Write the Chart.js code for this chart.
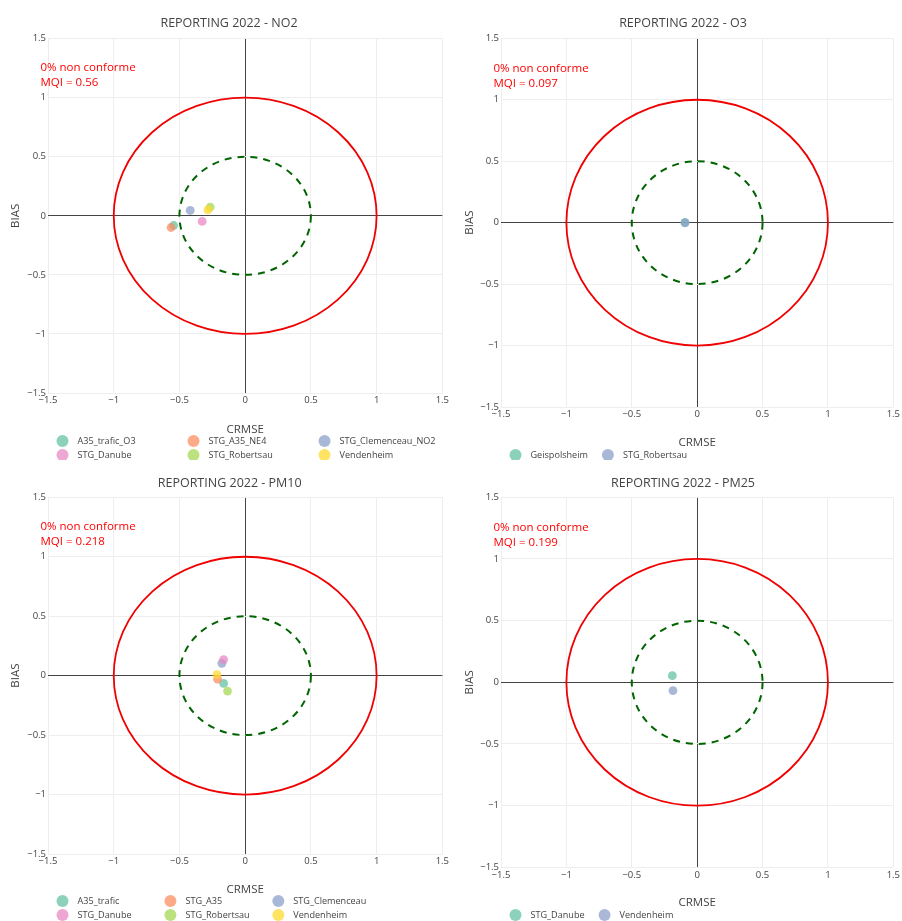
<!DOCTYPE html>
<html>
<head>
<meta charset="utf-8">
<script src="https://cdn.jsdelivr.net/npm/chart.js@4.4.0/dist/chart.umd.min.js"></script>
<style>
  body { margin: 0; background: #fff; }
  #page { position: relative; width: 902px; height: 921px; }
  canvas { position: absolute; }
</style>
</head>
<body>
<div id="page">
  <canvas id="no2" width="451" height="460" style="left:0;top:0"></canvas>
  <canvas id="o3" width="451" height="460" style="left:451px;top:0"></canvas>
  <canvas id="pm10" width="451" height="461" style="left:0;top:460px"></canvas>
  <canvas id="pm25" width="451" height="461" style="left:451px;top:460px"></canvas>
</div>
<script>
const axisTicks = [-1.5, -1, -0.5, 0, 0.5, 1, 1.5];

const no2Stations = ["A35_trafic_O3", "STG_A35_NE4", "STG_Clemenceau_NO2", "STG_Danube", "STG_Robertsau", "Vendenheim"];
const no2Crmse = [-0.544, -0.564, -0.418, -0.327, -0.266, -0.283];
const no2Bias = [-0.082, -0.099, 0.045, -0.048, 0.074, 0.050];
const no2Summary = ["0% non conforme", "MQI = 0.56"];

const o3Stations = ["Geispolsheim", "STG_Robertsau"];
const o3Crmse = [-0.093, -0.093];
const o3Bias = [0.002, -0.002];
const o3Summary = ["0% non conforme", "MQI = 0.097"];

const pm10Stations = ["A35_trafic", "STG_A35", "STG_Clemenceau", "STG_Danube", "STG_Robertsau", "Vendenheim"];
const pm10Crmse = [-0.164, -0.210, -0.177, -0.164, -0.134, -0.215];
const pm10Bias = [-0.065, -0.030, 0.104, 0.135, -0.130, 0.008];
const pm10Summary = ["0% non conforme", "MQI = 0.218"];

const pm25Stations = ["STG_Danube", "Vendenheim"];
const pm25Crmse = [-0.190, -0.185];
const pm25Bias = [0.054, -0.067];
const pm25Summary = ["0% non conforme", "MQI = 0.199"];

// Set2 colours
const teal = "102,194,165", orange = "252,141,98", blue = "141,160,203",
      pink = "231,138,195", green = "166,216,84", yellow = "255,217,47";

const FONT = '"Open Sans", "DejaVu Sans", sans-serif';
const minus = v => v < 0 ? "\u2212" + Math.abs(v) : String(v);

// red / dashed green target rings, drawn through the scales
const targetCircles = {
  id: "targetCircles",
  beforeDatasetsDraw(chart, args, opts) {
    const { ctx, scales: { x, y } } = chart;
    const cx = x.getPixelForValue(0), cy = y.getPixelForValue(0);
    ctx.save();
    opts.rings.forEach(r => {
      ctx.beginPath();
      ctx.setLineDash(r.dash || []);
      ctx.strokeStyle = r.color;
      ctx.lineWidth = r.width;
      ctx.ellipse(cx, cy, x.getPixelForValue(r.radius) - cx, cy - y.getPixelForValue(r.radius), 0, 0, Math.PI * 2);
      ctx.stroke();
    });
    ctx.restore();
  }
};

// red text block top-left
const qualityNote = {
  id: "qualityNote",
  afterDraw(chart, args, opts) {
    const { ctx, chartArea, scales: { y } } = chart;
    const mid = y.getPixelForValue(opts.at);
    ctx.save();
    ctx.font = `${opts.size}px ${FONT}`;
    ctx.fillStyle = opts.color;
    ctx.textBaseline = "middle";
    opts.lines.forEach((t, i) => {
      ctx.fillText(t, chartArea.left - 7.5, mid + (i - (opts.lines.length - 1) / 2) * 15);
    });
    ctx.restore();
  }
};

// plotly-like legend: uniform columns when it wraps
const gridLegend = {
  id: "gridLegend",
  afterDraw(chart, args, opts) {
    const { ctx, chartArea } = chart;
    const sets = chart.data.datasets;
    ctx.save();
    ctx.font = `${opts.size}px ${FONT}`;
    ctx.textBaseline = "middle";
    const widths = sets.map(d => ctx.measureText(d.label).width);
    const widest = Math.max(...widths);
    const wraps = opts.columns < sets.length;
    let x = 0;
    sets.forEach((d, i) => {
      const col = i % opts.columns, row = Math.floor(i / opts.columns);
      if (col === 0) x = chartArea.left + 14.5;
      const y = opts.rows[row];
      ctx.fillStyle = d.backgroundColor;
      ctx.beginPath();
      ctx.arc(x, y, 6, 0, Math.PI * 2);
      ctx.fill();
      ctx.fillStyle = "#444";
      ctx.fillText(d.label, x + 15, y);
      x += (wraps ? widest : widths[i]) + 35;
    });
    ctx.restore();
  }
};

function makeChart(id, p) {
  const datasets = p.stations.map((name, i) => ({
    label: name,
    data: [{ x: p.crmse[i], y: p.bias[i] }],
    backgroundColor: `rgba(${p.colors[i]},0.75)`,
    borderWidth: 0,
    pointRadius: 4.4,
    order: p.stations.length - i
  }));

  const tickFont = { family: FONT, size: 9.5 };
  const grid = {
    color: c => (c.tick && c.tick.value === 0) ? "#444" : "#eeeeee",
    lineWidth: 1,
    drawTicks: false
  };

  return new Chart(document.getElementById(id), {
    type: "scatter",
    data: { datasets },
    options: {
      responsive: false,
      animation: false,
      events: [],
      layout: { padding: { left: p.padL, right: p.padR, top: 0, bottom: p.padB } },
      plugins: {
        legend: { display: false },
        tooltip: { enabled: false },
        title: {
          display: true,
          text: p.title,
          color: "#444",
          font: { family: FONT, size: 12.5, weight: "normal" },
          padding: { top: p.titleTop, bottom: p.titleBottom }
        },
        targetCircles: {
          rings: [
            { radius: 1, color: "#f00000", width: 1.8 },
            { radius: 0.5, color: "#006400", width: 2, dash: [7, 6] }
          ]
        },
        qualityNote: { lines: p.summary, at: 1.19, size: 11.5, color: "#ff0000" },
        gridLegend: { columns: p.columns, rows: p.legendRows, size: 9.1 }
      },
      scales: {
        x: {
          type: "linear",
          min: -1.5,
          max: 1.5,
          afterBuildTicks: s => { s.ticks = axisTicks.map(v => ({ value: v })); },
          afterFit: s => { s.height = p.xHeight; },
          ticks: { color: "#444", font: tickFont, padding: 2, maxRotation: 0, autoSkip: false, callback: minus },
          grid,
          border: { display: false },
          title: { display: true, text: "CRMSE", color: "#444", font: { family: FONT, size: 11.5 }, padding: 0 }
        },
        y: {
          type: "linear",
          min: -1.5,
          max: 1.5,
          afterBuildTicks: s => { s.ticks = axisTicks.map(v => ({ value: v })); },
          afterFit: s => { s.width = p.yWidth; },
          ticks: { color: "#444", font: tickFont, padding: 2, autoSkip: false, callback: minus },
          grid,
          border: { display: false },
          title: { display: true, text: "BIAS", color: "#444", font: { family: FONT, size: 11.5 }, padding: { top: p.biasPad, bottom: 0 } }
        }
      }
    },
    plugins: [targetCircles, qualityNote, gridLegend]
  });
}

makeChart("no2", {
  title: "REPORTING 2022 - NO2",
  stations: no2Stations, crmse: no2Crmse, bias: no2Bias, summary: no2Summary,
  colors: [teal, orange, blue, pink, green, yellow],
  padL: 15, padR: 8, padB: 23.4, yWidth: 33, xHeight: 43.6, biasPad: -6.6,
  titleTop: 15.8, titleBottom: 7.8, columns: 3, legendRows: [441, 455]
});

makeChart("o3", {
  title: "REPORTING 2022 - O3",
  stations: o3Stations, crmse: o3Crmse, bias: o3Bias, summary: o3Summary,
  colors: [teal, blue],
  padL: 18, padR: 5, padB: 10.1, yWidth: 32, xHeight: 42.9, biasPad: -6.6,
  titleTop: 16.1, titleBottom: 7.2, columns: 2, legendRows: [455]
});

makeChart("pm10", {
  title: "REPORTING 2022 - PM10",
  stations: pm10Stations, crmse: pm10Crmse, bias: pm10Bias, summary: pm10Summary,
  colors: [teal, orange, blue, pink, green, yellow],
  padL: 16.4, padR: 8, padB: 24.4, yWidth: 31.6, xHeight: 42.6, biasPad: -8,
  titleTop: 16.1, titleBottom: 6.2, columns: 3, legendRows: [441, 455]
});

makeChart("pm25", {
  title: "REPORTING 2022 - PM25",
  stations: pm25Stations, crmse: pm25Crmse, bias: pm25Bias, summary: pm25Summary,
  colors: [teal, blue],
  padL: 18, padR: 5, padB: 11.1, yWidth: 32, xHeight: 42.6, biasPad: -6.6,
  titleTop: 16.1, titleBottom: 6.2, columns: 2, legendRows: [455]
});
</script>
</body>
</html>
